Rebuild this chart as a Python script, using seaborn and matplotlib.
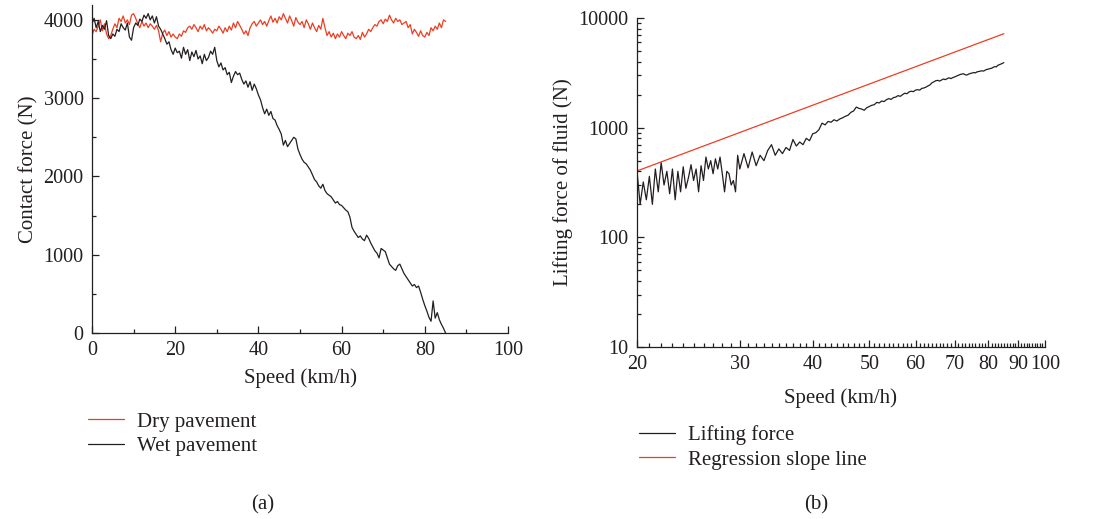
import numpy as np
import pandas as pd
import seaborn as sns
import matplotlib
matplotlib.use("Agg")
from matplotlib import pyplot as plt
from matplotlib.ticker import MultipleLocator, FixedLocator, NullFormatter, LogLocator

# ---------------------------------------------------------------------------
# (a) contact force vs speed, sampled every 0.5 km/h from 0 to 85
speed_a = np.arange(0, 85.5, 0.5)

dry_force = [
    3800, 3880, 3850, 3920, 4000, 3860, 3950, 3820, 3760, 3800,
    3880, 3950, 3900, 4020, 3980, 4050, 3960, 4000, 3940, 4060,
    4080, 4020, 3950, 3900, 3980, 3920, 3960, 3900, 3950, 3920,
    3880, 3930, 3860, 3720, 3830, 3870, 3800, 3850, 3780, 3820,
    3780, 3760, 3820, 3790, 3860, 3840, 3900, 3920, 3880, 3940,
    3900, 3850, 3920, 3880, 3940, 3860, 3900, 3870, 3830, 3880,
    3860, 3920, 3880, 3830, 3900, 3850, 3920, 3870, 3960, 3900,
    3980, 3930, 3880, 3820, 3860, 3800, 3900, 3950, 3980, 3920,
    3960, 4000, 3940, 3980, 3920, 3990, 4050, 3970, 4020, 3960,
    4040, 4000, 4080, 4020, 3960, 4050, 3990, 3920, 4030, 3970,
    3940, 3980, 3900, 4000, 3950, 3880, 3960, 3900, 3850, 3930,
    3880, 4020, 3900, 3800, 3850, 3780, 3830, 3760, 3820, 3780,
    3850, 3800, 3760, 3830, 3800, 3850, 3780, 3760, 3800, 3750,
    3840, 3780, 3820, 3880, 3850, 3900, 3940, 3920, 3980, 4000,
    3950, 4010, 3980, 4060, 4000, 3960, 4020, 3980, 4000, 3940,
    3960, 3980, 3900, 3940, 3820, 3880, 3840, 3790, 3860, 3800,
    3780, 3840, 3800, 3900, 3860, 3920, 3880, 3960, 3900, 4000,
    3980,
]

wet_force = [
    3950, 4020, 3900, 3980, 3850, 3930, 3880, 3990, 3800, 3760,
    3820, 3790, 3880, 3850, 3950, 3900, 3870, 3960, 3780, 3740,
    3900, 3960, 3930, 4010, 3980, 4060, 4020, 4080, 4000, 4050,
    3960, 4040, 3920, 3880, 3820, 3760, 3690, 3720, 3620, 3560,
    3640, 3580, 3600, 3510, 3650, 3560, 3620, 3480, 3590, 3530,
    3610, 3500, 3540, 3440, 3560, 3480, 3520, 3600, 3560, 3650,
    3480, 3400, 3450, 3360, 3390, 3300, 3330, 3200, 3280, 3340,
    3300, 3320, 3240, 3180, 3220, 3140, 3210, 3100, 3180, 3120,
    3040, 2980, 2880, 2800, 2860, 2780, 2830, 2740, 2720, 2650,
    2600, 2540, 2400, 2460, 2380, 2420, 2460, 2500, 2480, 2350,
    2280, 2220, 2180, 2160, 2120, 2080, 2020, 1960, 1930, 1880,
    1850, 1900, 1820, 1780, 1760, 1740, 1700, 1660, 1680, 1640,
    1630, 1600, 1570, 1550, 1480, 1350, 1300, 1260, 1220, 1240,
    1200, 1180, 1250, 1210, 1150, 1100, 1050, 1020, 960, 1080,
    1060, 1040, 960, 880, 850, 820, 800, 860, 880, 820,
    760, 720, 680, 640, 600, 620, 580, 600, 520, 430,
    350, 280, 200, 150, 410, 190, 260, 170, 110, 60,
    0,
]

# ---------------------------------------------------------------------------
# (b) lifting force vs speed (log-log)
speed_b = np.concatenate([np.arange(20, 30.25, 0.25), np.arange(30.5, 85.5, 0.5)])

lift_force = [
    400, 200, 320, 220, 360, 200, 420, 260, 480, 300,
    400, 250, 420, 220, 400, 260, 440, 280, 350, 460,
    330, 420, 260, 450, 330, 540, 420, 500, 380, 520,
    420, 540, 380, 260, 400, 380, 300, 330, 260, 560,
    420,
    580, 430, 600, 450, 560, 500, 620, 700, 560, 640,
    580, 660, 620, 780, 680, 740, 700, 800, 760, 880,
    900, 960, 1100, 1060, 1140, 1120, 1180, 1150, 1200, 1230,
    1270, 1300, 1380, 1420, 1540, 1500, 1480, 1440, 1520, 1560,
    1600, 1620, 1700, 1680, 1750, 1730, 1800, 1840, 1810, 1880,
    1900, 1960, 1930, 2000, 2060, 2040, 2120, 2150, 2130, 2200,
    2220, 2200, 2280, 2300, 2340, 2400, 2450, 2560, 2620, 2680,
    2700, 2660, 2720, 2780, 2740, 2800, 2850, 2800, 2860, 2900,
    2950, 3000, 3050, 3080, 3100, 3040, 3020, 3080, 3120, 3150,
    3180, 3160, 3230, 3250, 3280, 3300, 3280, 3350, 3400, 3420,
    3460, 3480, 3550, 3600, 3580, 3700, 3750, 3800, 3850, 3920,
]

regression_speed = [20, 85]
regression_force = [403, 7190]

red = "#ee3d23"
black = "#231f20"

df_a = pd.DataFrame({"speed": speed_a, "dry": dry_force, "wet": wet_force})
df_b = pd.DataFrame({"speed": speed_b, "lift": lift_force})

sns.set_style("ticks")
plt.rcParams["font.family"] = ["Liberation Serif", "DejaVu Serif"]
plt.rcParams["mathtext.fontset"] = "stix"

fig = plt.figure(figsize=(10.99, 5.19), dpi=100)
ax1 = fig.add_axes([92 / 1099, 1 - 333 / 519, 416 / 1099, 328 / 519])
ax2 = fig.add_axes([637 / 1099, 1 - 347 / 519, 408 / 1099, 329 / 519])

tick_fs = 14.5
label_fs = 15

# ----- panel (a)
sns.lineplot(data=df_a, x="speed", y="dry", ax=ax1, color=red, lw=0.9, label="Dry pavement")
sns.lineplot(data=df_a, x="speed", y="wet", ax=ax1, color=black, lw=0.9, label="Wet pavement")
ax1.set_xlim(0, 100)
ax1.set_ylim(0, 4190)
ax1.xaxis.set_major_locator(MultipleLocator(20))
ax1.xaxis.set_minor_locator(MultipleLocator(10))
ax1.yaxis.set_major_locator(MultipleLocator(1000))
ax1.yaxis.set_minor_locator(MultipleLocator(500))
ax1.set_xlabel("Speed (km/h)", fontsize=label_fs, color=black)
ax1.set_ylabel("Contact force (N)", fontsize=label_fs, color=black)

# ----- panel (b)
sns.lineplot(data=df_b, x="speed", y="lift", ax=ax2, color=black, lw=0.9, label="Lifting force")
sns.lineplot(x=regression_speed, y=regression_force, ax=ax2, color=red, lw=0.9,
             label="Regression slope line")
ax2.set_xscale("log")
ax2.set_yscale("log")
ax2.set_xlim(20, 100)
ax2.set_ylim(10, 10000)
ax2.xaxis.set_major_locator(FixedLocator([20, 30, 40, 50, 60, 70, 80, 90, 100]))
ax2.xaxis.set_major_formatter(matplotlib.ticker.FixedFormatter(
    ["20", "30", "40", "50", "60", "70", "80", "90", "100"]))
ax2.xaxis.set_minor_locator(FixedLocator(list(range(21, 100))))
ax2.xaxis.set_minor_formatter(NullFormatter())
ax2.yaxis.set_major_locator(FixedLocator([10, 100, 1000, 10000]))
ax2.yaxis.set_major_formatter(matplotlib.ticker.FixedFormatter(["10", "100", "1000", "10000"]))
ax2.yaxis.set_minor_locator(LogLocator(base=10, subs=range(2, 10)))
ax2.yaxis.set_minor_formatter(NullFormatter())
ax2.set_xlabel("Speed (km/h)", fontsize=label_fs, color=black)
ax2.set_ylabel("Lifting force of fluid (N)", fontsize=label_fs, color=black)

for ax in (ax1, ax2):
    sns.despine(ax=ax)
    ax.tick_params(which="both", direction="in", colors=black, labelsize=tick_fs, width=0.9)
    ax.tick_params(which="major", length=5, pad=6)
    ax.tick_params(which="minor", length=3)
    for s in ("left", "bottom"):
        ax.spines[s].set_color(black)
        ax.spines[s].set_linewidth(0.9)
    ax.grid(False)
    ax.get_legend().remove()

ax1.xaxis.labelpad = 6
ax2.xaxis.labelpad = 10

# legends below the panels
h1, l1 = ax1.get_legend_handles_labels()
fig.legend(h1, l1, loc="upper left", bbox_to_anchor=(88 / 1099, 1 - 412 / 519),
           frameon=False, fontsize=label_fs, handlelength=1.75, handletextpad=0.6,
           labelspacing=0.25, borderpad=0, borderaxespad=0, labelcolor=black)
h2, l2 = ax2.get_legend_handles_labels()
fig.legend(h2, l2, loc="upper left", bbox_to_anchor=(639 / 1099, 1 - 425 / 519),
           frameon=False, fontsize=label_fs, handlelength=1.75, handletextpad=0.6,
           labelspacing=0.25, borderpad=0, borderaxespad=0, labelcolor=black)

fig.text(263 / 1099, 1 - 505 / 519, "(a)", ha="center", va="center", fontsize=label_fs, color=black)
fig.text(816 / 1099, 1 - 505 / 519, "(b)", ha="center", va="center", fontsize=label_fs, color=black)

fig.savefig("out.png", dpi=100)
